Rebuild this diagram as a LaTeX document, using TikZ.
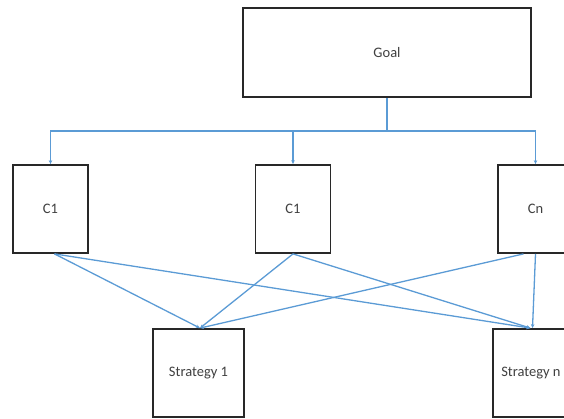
\documentclass[tikz,border=0pt]{standalone}
\usepackage{fontspec}
\setmainfont{Carlito}
\usetikzlibrary{arrows.meta,calc}
\definecolor{lineblue}{RGB}{91,155,213}
\definecolor{boxline}{RGB}{40,40,40}
\tikzset{
  boxtext/.style={font=\fontsize{14.5}{16}\selectfont,text=black!75},
  box/.style={draw=boxline,line width=1.8pt,fill=white,inner sep=0pt,boxtext},
  cbox/.style={box,minimum width=75pt,minimum height=88pt},
  sbox/.style={box,minimum width=91pt,minimum height=88pt},
  conn/.style={draw=lineblue,line width=1.3pt,-{Stealth[length=4pt,width=3.5pt]}},
  plain/.style={draw=lineblue,line width=1.3pt}
}
\begin{document}
\begin{tikzpicture}[x=1pt,y=-1pt]
\useasboundingbox (0,0) rectangle (564,419);
\begin{scope}
\clip (0,0) rectangle (564,419);
\node[box,minimum width=288pt,minimum height=89pt] (goal) at (387,52.5) {Goal};
\node[cbox] (ca) at (50.5,209) {C1};
\node[cbox] (cb) at (293,209) {C1};
\node[cbox] (cn) at (535.5,209) {Cn};
\node[sbox] (sa) at (198.5,373) {Strategy 1};
\node[sbox] (sn) at (538.5,373) {};
% goal to criteria
\coordinate (j) at ($(goal.south)+(0,33)$);
\draw[plain] (goal.south) -- (j);
\draw[conn] (j) -| (ca.north);
\draw[conn] (j) -| (cb.north);
\draw[conn] (j) -| (cn.north);
% criteria to strategies
\coordinate (caout) at ($(ca.south)+(4,0)$);
\coordinate (cnoutl) at ($(cn.south)+(-12,0)$);
\coordinate (sain) at ($(sa.north)+(1.5,0)$);
\coordinate (snin) at ($(sn.north)+(-8,0)$);
\coordinate (snin2) at ($(sn.north)+(-6,0)$);
\draw[conn] (caout) -- (sain);
\draw[conn] (caout) -- (snin);
\draw[conn] (cb.south) -- (sain);
\draw[conn] (cb.south) -- (snin);
\draw[conn] (cnoutl) -- (sain);
\draw[conn] (cn.south) -- (snin2);
\end{scope}
\node[boxtext,anchor=west,inner sep=0pt] (snlabel) at ($(sn.west)+(9,0)$) {Strategy n};
\end{tikzpicture}
\end{document}
